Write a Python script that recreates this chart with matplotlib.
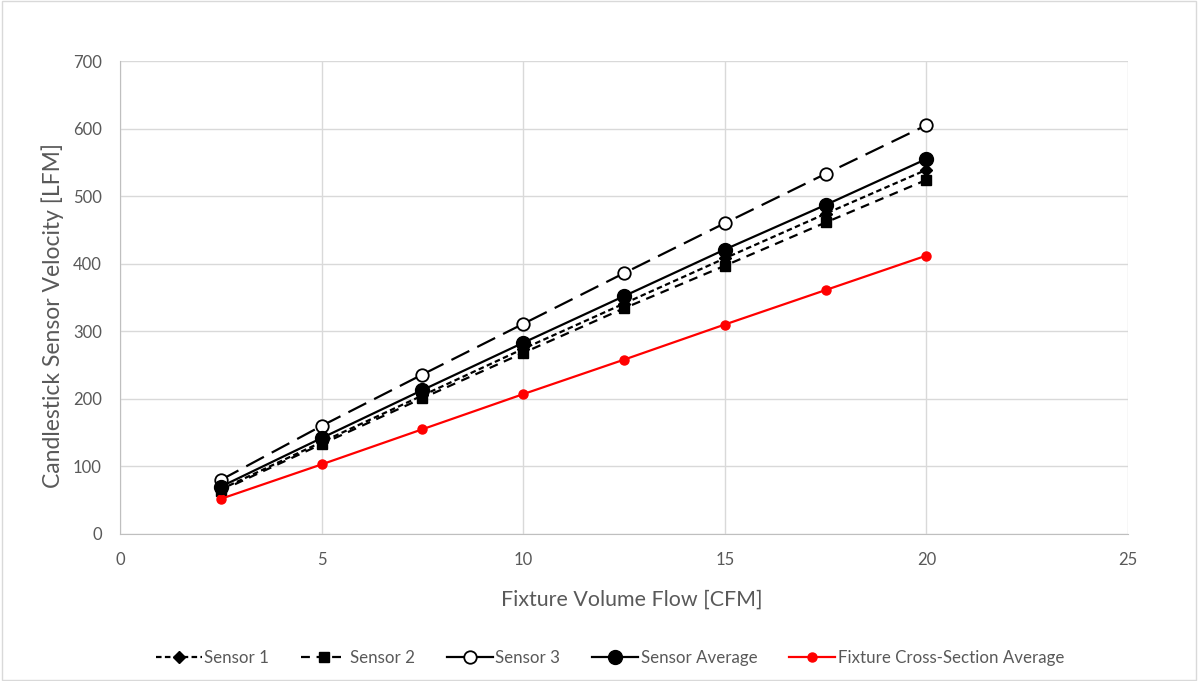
import matplotlib.pyplot as plt
from matplotlib.lines import Line2D

flow = [2.5, 5, 7.5, 10, 12.5, 15, 17.5, 20]
sensor1 = [66, 136, 205, 274, 341, 408, 474, 539]
sensor2 = [64, 133, 201, 268, 334, 397, 461, 524]
sensor3 = [80, 160, 236, 311, 386, 460, 533, 605]
sensor_avg = [70, 142, 213, 283, 352, 421, 487, 555]
fixture_avg = [52, 103, 155, 207, 258, 310, 361, 412]

labels = ['Sensor 1', 'Sensor 2', 'Sensor 3', 'Sensor Average',
          'Fixture Cross-Section Average']
xticks = [0, 5, 10, 15, 20, 25]
yticks = [0, 100, 200, 300, 400, 500, 600, 700]

plt.rcParams['font.family'] = ['Lato', 'DejaVu Sans']
gray = '#595959'

fig = plt.figure(figsize=(11.98, 6.81), dpi=100)
ax = fig.add_axes([120 / 1198, 1 - 534 / 681, 1008 / 1198, 473 / 681])

ax.plot(flow, sensor1, color='black', lw=1.6, ls=(0, (2.5, 1.5)),
        marker='D', ms=6, zorder=3)
ax.plot(flow, sensor2, color='black', lw=1.6, ls=(0, (4, 3)),
        marker='s', ms=6.5, zorder=3)
ax.plot(flow, sensor3, color='black', lw=1.6, ls=(0, (9, 4)),
        marker='o', ms=9, mfc='white', mec='black', mew=1.3, zorder=4)
ax.plot(flow, sensor_avg, color='black', lw=1.6, ls='-',
        marker='o', ms=10, zorder=4)
ax.plot(flow, fixture_avg, color='#ff0000', lw=1.6, ls='-',
        marker='o', ms=6.5, zorder=3)

ax.set_xlim(0, 25)
ax.set_ylim(0, 700)
ax.set_xticks(xticks)
ax.set_yticks(yticks)
ax.grid(True, color='#d9d9d9', lw=1)
ax.set_axisbelow(True)
ax.tick_params(length=0, labelsize=12, colors=gray, pad=13)
for s in ['top', 'right']:
    ax.spines[s].set_visible(False)
for s in ['left', 'bottom']:
    ax.spines[s].set_color('#bfbfbf')

ax.set_xlabel('Fixture Volume Flow [CFM]', fontsize=15.4, color=gray)
ax.set_ylabel('Candlestick Sensor Velocity [LFM]', fontsize=16.5, color=gray)
ax.xaxis.set_label_coords((632 - 120) / 1008, -(600 - 534) / 473)
ax.yaxis.set_label_coords(-(120 - 53) / 1008, (534 - 316) / 473)
ax.xaxis.label.set_va('center')
ax.yaxis.label.set_va('center')

handles = [
    Line2D([], [], color='black', lw=1.6, ls=(0, (2.5, 1.5)), marker='D', ms=6),
    Line2D([], [], color='black', lw=1.6, ls=(0, (4, 3)), marker='s', ms=6.5),
    Line2D([], [], color='black', lw=1.6, marker='o', ms=9, mfc='white', mew=1.3),
    Line2D([], [], color='black', lw=1.6, marker='o', ms=10),
    Line2D([], [], color='#ff0000', lw=1.6, marker='o', ms=6.5),
]
leg = fig.legend(handles, labels, loc='center', bbox_to_anchor=(610 / 1198, 1 - 658 / 681),
                 ncol=5, frameon=False, fontsize=12.2, handlelength=2.7,
                 columnspacing=1.9, handletextpad=0.15)
for t in leg.get_texts():
    t.set_color(gray)

fig.patches.append(plt.Rectangle((0.002, 0.002), 0.996, 0.996, transform=fig.transFigure,
                                 fill=False, edgecolor='#d9d9d9', lw=1))

fig.savefig('out.png', dpi=100)
